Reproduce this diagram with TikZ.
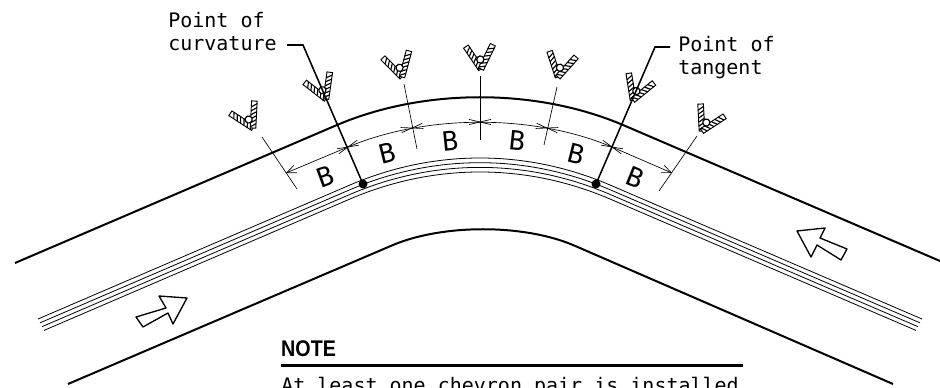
\documentclass[tikz,border=0pt]{standalone}
\usepackage{fontspec}
\setmonofont{DejaVu Sans Mono}
\newfontfamily\notefont{Liberation Sans}
\usetikzlibrary{arrows.meta}
\tikzset{
  x=0.75pt, y=-0.75pt,
  roadedge/.style={line width=1.5pt},
  laneline/.style={line width=0.6pt},
  thinline/.style={line width=0.5pt},
  leaderline/.style={line width=1.15pt},
  travelarrow/.style={line width=1pt, line join=round},
  cadtext/.style={font=\ttfamily\fontsize{15}{17.25}\selectfont, inner sep=0pt, align=left},
  dimletter/.style={font=\ttfamily\fontsize{20}{20}\selectfont, inner sep=0pt},
  chevron/.pic={
    \foreach \armrot in {30,-30} {
      \begin{scope}[rotate=\armrot]
        \draw[line width=0.7pt, fill=white] (-2.8,0) rectangle (2.8,-27);
        \foreach \hatch in {1,5,...,22} {
          \draw[line width=0.85pt] (-2.8,-\hatch) -- (2.8,-\hatch-3.5);
        }
      \end{scope}
    }
    \draw[line width=0.9pt, fill=white] (0,-9.5) circle (3.6);
  },
  dimcross/.pic={
    \draw[thinline] (-11,-2.6) -- (11,2.6);
    \draw[thinline] (-11,2.6) -- (11,-2.6);
  }
}
\begin{document}
\begin{tikzpicture}
\useasboundingbox (0,0) rectangle (940,388);
\clip (0,0) rectangle (940,388);

% road edges
\draw[roadedge] (15,263) -- (337,125) .. controls (424,88) and (536,88) .. (623,125) -- (940,261);
\draw[roadedge] (68,384) -- (393,245) .. controls (443,224) and (523,224) .. (573,245) -- (893,384);

% lane lines
\foreach \dy/\dx in {0/0, 4.7/2, 9.4/4, 14/6} {
  \draw[laneline] (38+\dx, 319+\dy-0.43*\dx) -- (350, 185+\dy)
    .. controls (434, 149+\dy) and (526, 149+\dy) .. (610, 185+\dy)
    -- (922-\dx, 319+\dy-0.43*\dx);
}

% radial lines
\draw[thinline] (262,137) -- (297,189);
\draw[thinline] (404,84) -- (417,149);
\draw[thinline] (480,76) -- (480,140);
\draw[thinline] (557,87) -- (544,145);
\draw[thinline] (697,136) -- (659,191);

% dimension line
\coordinate (dimleft) at (286,173);
\coordinate (dimright) at (672,173);
\draw[thinline, {Straight Barb[length=7pt,width=6pt]}-{Straight Barb[length=7pt,width=6pt]}]
  (dimleft) -- (348,147) .. controls (426,114) and (534,114) .. (612,147) -- (dimright);
\pic[rotate=23] at (348,147) {dimcross};
\pic[rotate=11] at (412,128) {dimcross};
\pic at (480,122) {dimcross};
\pic[rotate=-11] at (547,128) {dimcross};
\pic[rotate=-23] at (612,147) {dimcross};

% dimension letters
\node[dimletter, rotate=20] (bone) at (325,177) {B};
\node[dimletter, rotate=14] (btwo) at (387,153) {B};
\node[dimletter, rotate=6] (bthree) at (450,141) {B};
\node[dimletter, rotate=-6] (bfour) at (517,141) {B};
\node[dimletter, rotate=-14] (bfive) at (576,154) {B};
\node[dimletter, rotate=-22] (bsix) at (635,177) {B};

% chevrons
\pic[rotate=27] at (253,128) {chevron};
\pic[rotate=22] at (326,99) {chevron};
\pic[rotate=15] at (402,77) {chevron};
\pic[rotate=4] at (481,69) {chevron};
\pic[rotate=-12] at (558,77) {chevron};
\pic[rotate=-21] at (633,100) {chevron};
\pic[rotate=-27] at (702,131) {chevron};

% leaders and labels
\node[cadtext, anchor=north west] (curvelabel) at (168,12) {Point of\\curvature};
\node[cadtext, anchor=north west] (tangentlabel) at (678,36) {Point of\\tangent};
\coordinate (curvedot) at (363,184);
\coordinate (tangentdot) at (596,184);
\coordinate (curvebend) at (303,45);
\coordinate (tangentbend) at (655,47);
\draw[leaderline] (287,45) -- (curvebend) -- (curvedot);
\draw[leaderline] (670,47) -- (tangentbend) -- (tangentdot);
\fill (curvedot) circle (4.5);
\fill (tangentdot) circle (4.5);

% travel arrows
\draw[travelarrow] (187,298) -- (159,296) -- (166,308) -- (136,317) -- (143,327) -- (168,313) -- (173,324) -- cycle;
\draw[travelarrow] (797,231) -- (825,228) -- (820,238) -- (847,249) -- (841,260) -- (817,245) -- (811,257) -- cycle;

% note
\node[anchor=base west, inner sep=0pt, xscale=0.87, font=\notefont\bfseries\fontsize{17}{17}\selectfont] (notehead) at (281,357) {NOTE};
\draw[line width=2.25pt] (281,366) -- (743,366);
\node[cadtext, anchor=base west] (notetext) at (281,393) {At least one chevron pair is installed};

\end{tikzpicture}
\end{document}
